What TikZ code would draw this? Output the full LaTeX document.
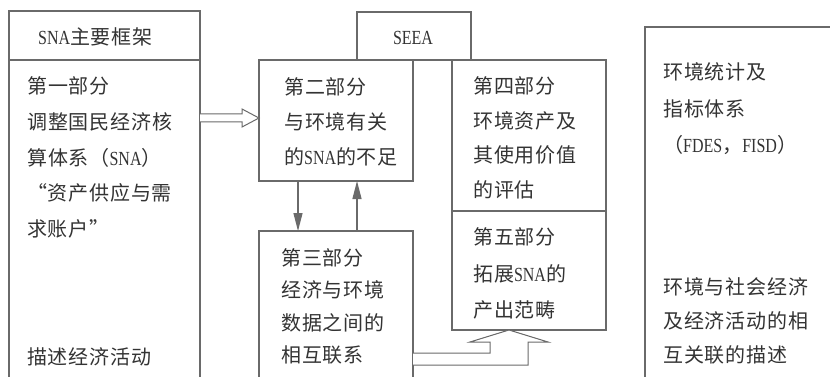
\documentclass[tikz,border=0pt]{standalone}
\usepackage{fontspec}
\newfontfamily\cjk{Noto Sans CJK SC}[LetterSpace=4]
\newfontfamily\lat{Liberation Serif}[FakeStretch=0.8]
\usetikzlibrary{calc,arrows.meta}
\definecolor{ln}{HTML}{6A6A6A}
\definecolor{tx}{HTML}{333333}
\newcommand\mlines[1]{\begin{tabular}[t]{@{}l@{}}#1\end{tabular}}
\begin{document}
\begin{tikzpicture}[x=1pt,y=-1pt,
  box/.style={draw=ln,line width=1.2pt,rectangle,inner sep=0pt,outer sep=0pt,anchor=north west},
  txt/.style={text=tx,font=\cjk\fontsize{20}{#1}\selectfont,anchor=base west,inner sep=0pt},
  txt/.default=36,
  hollow/.style={draw=ln,line width=1pt,fill=white,line join=miter},
  solidarr/.style={draw=ln,line width=1.2pt,-{Triangle[length=18pt,width=9pt]}}
]
\useasboundingbox (0,0) rectangle (830,377);
\fill[white] (0,0) rectangle (830,377);
\clip (0,0) rectangle (830,377);

% boxes
\node[box,minimum width=191pt,minimum height=49pt] (snahead) at (9,11) {};
\node[box,minimum width=191pt,minimum height=340pt] (snabody) at (9,60) {};
\node[box,minimum width=114pt,minimum height=48pt] (seea) at (357,12) {};
\node[box,minimum width=154pt,minimum height=121pt] (p2) at (259,60) {};
\node[box,minimum width=154pt,minimum height=151pt] (p4) at (452,60) {};
\node[box,minimum width=154pt,minimum height=119pt] (p5) at (452,211) {};
\node[box,minimum width=154pt,minimum height=170pt] (p3) at (259,231) {};
\node[box,minimum width=200pt,minimum height=380pt] (env) at (645,27) {};

% texts
\node[txt] (t0) at (38,44.6) {{\lat SNA}主要框架};
\node[txt=35.8] (t1) at (27,93.6) {\mlines{第一部分\\调整国民经济核\\算体系（{\lat SNA}）\\“资产供应与需\\求账户”}};
\node[txt] (t1b) at (27,364.6) {描述经济活动};
\node[text=tx,font=\lat\fontsize{20}{22}\selectfont,inner sep=0pt] (tseea) at (413,38) {SEEA};
\node[txt=35] (t2) at (284,94.6) {\mlines{第二部分\\与环境有关\\的{\lat SNA}的不足}};
\node[txt=32.3] (t3) at (281,265.6) {\mlines{第三部分\\经济与环境\\数据之间的\\相互联系}};
\node[txt=34.7] (t4) at (473,93.6) {\mlines{第四部分\\环境资产及\\其使用价值\\的评估}};
\node[txt=36.5] (t5) at (473,244.6) {\mlines{第五部分\\拓展{\lat SNA}的\\产出范畴}};
\node[txt=36.5] (t6) at (663,79.6) {\mlines{环境统计及\\指标体系\\（{\lat FDES}，{\lat FISD}）}};
\node[txt=34] (t7) at (663,294.6) {\mlines{环境与社会经济\\及经济活动的相\\互关联的描述}};

% hollow arrow SNA -> part 2
\coordinate (a1s) at (snabody.east |- 0,118);
\coordinate (a1e) at (p2.west |- 0,118);
\draw[hollow] ($(a1s)+(0,-4)$) -- ($(a1e)+(-17,-4)$) -- ($(a1e)+(-17,-9)$) -- (a1e)
  -- ($(a1e)+(-17,9)$) -- ($(a1e)+(-17,4)$) -- ($(a1s)+(0,4)$);

% solid arrows between part 2 and part 3
\draw[solidarr] (p2.south -| 298,0) -- (p3.north -| 298,0);
\draw[solidarr] (p3.north -| 357,0) -- (p2.south -| 357,0);

% hollow arrow part 3 -> part 5
\coordinate (a2s) at (p3.east |- 0,359);
\coordinate (a2e) at (p5.south -| 509,0);
\draw[hollow] ($(a2s)+(0,-6)$) -- ($(a2e)+(-19,23)$) -- ($(a2e)+(-19,12)$) -- ($(a2e)+(-39,12)$)
  -- (a2e) -- ($(a2e)+(39,12)$) -- ($(a2e)+(19,12)$) -- ($(a2e)+(19,35)$) -- ($(a2s)+(0,6)$);
\end{tikzpicture}
\end{document}
